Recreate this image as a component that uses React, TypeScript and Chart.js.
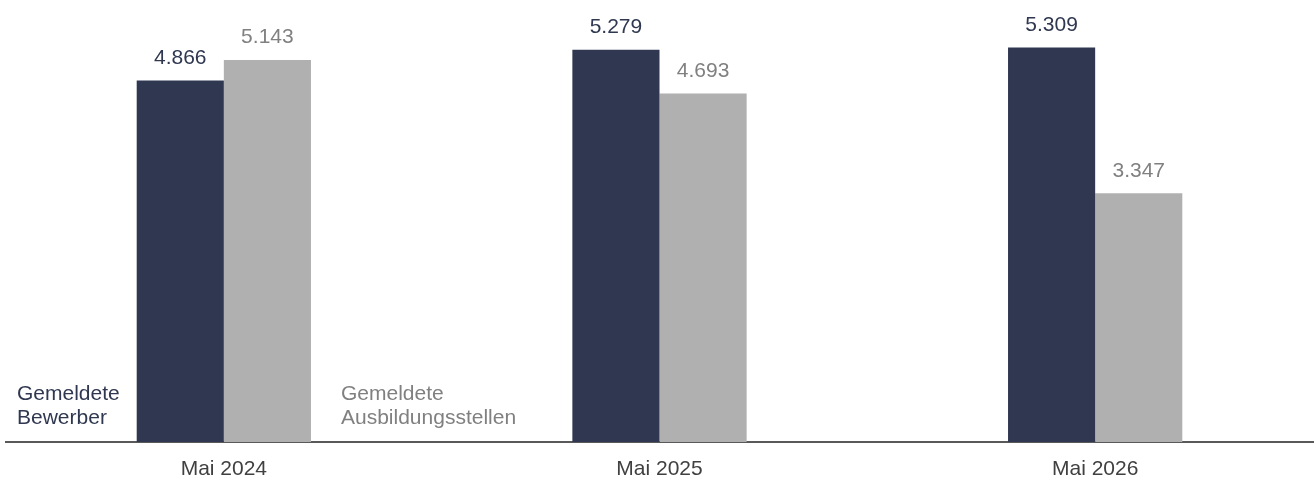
import React, { useEffect, useRef } from "react";
import { Chart, registerables } from "chart.js";

Chart.register(...registerables);

const categories = ["Mai 2024", "Mai 2025", "Mai 2026"];
const bewerber = [4866, 5279, 5309];
const stellen = [5143, 4693, 3347];
const seriesNames = ["Gemeldete Bewerber", "Gemeldete Ausbildungsstellen"];
const yMax = 5950;

const DARK = "#2F3850";
const GRAY = "#B0B0B0";
const DARK_TEXT = "#2F3850";
const GRAY_TEXT = "#808080";
const FONT = '"Liberation Sans", Arial, sans-serif';
const FONT_SIZE = 21;

const fmt = (v: number) => String(v).replace(/\B(?=(\d{3})+(?!\d))/g, ".");

const labelsPlugin = {
  id: "customLabels",
  afterDatasetsDraw(chart: any) {
    const ctx = chart.ctx;
    ctx.save();
    ctx.font = `${FONT_SIZE}px ${FONT}`;
    ctx.textAlign = "center";
    ctx.textBaseline = "alphabetic";
    chart.data.datasets.forEach((ds: any, di: number) => {
      const meta = chart.getDatasetMeta(di);
      ctx.fillStyle = di === 0 ? DARK_TEXT : GRAY_TEXT;
      meta.data.forEach((bar: any, i: number) => {
        ctx.fillText(fmt(ds.data[i]), bar.x, bar.y - 16.5);
      });
    });
    // series annotations near the baseline
    const area = chart.chartArea;
    ctx.textAlign = "left";
    ctx.fillStyle = DARK_TEXT;
    const [a1, a2] = seriesNames[0].split(" ");
    ctx.fillText(a1, area.left + 11, area.bottom - 42);
    ctx.fillText(a2, area.left + 11, area.bottom - 18);
    const gbar: any = chart.getDatasetMeta(1).data[0];
    const gx = gbar.x + gbar.width / 2 + 30;
    ctx.fillStyle = GRAY_TEXT;
    const [b1, b2] = seriesNames[1].split(" ");
    ctx.fillText(b1, gx, area.bottom - 42);
    ctx.fillText(b2, gx, area.bottom - 18);
    ctx.restore();
  },
};

export default function App() {
  const ref = useRef<HTMLCanvasElement>(null);
  useEffect(() => {
    document.body.style.margin = "0";
    const chart = new Chart(ref.current!, {
      type: "bar",
      data: {
        labels: categories,
        datasets: [
          {
            label: seriesNames[0],
            data: bewerber,
            backgroundColor: DARK,
            categoryPercentage: 0.4,
            barPercentage: 1,
          },
          {
            label: seriesNames[1],
            data: stellen,
            backgroundColor: GRAY,
            categoryPercentage: 0.4,
            barPercentage: 1,
          },
        ],
      },
      options: {
        responsive: false,
        maintainAspectRatio: false,
        animation: false,
        devicePixelRatio: 1,
        layout: { padding: { left: 6, right: 3, top: 0, bottom: 0 } },
        plugins: { legend: { display: false }, tooltip: { enabled: false } },
        scales: {
          x: {
            grid: { display: false, drawTicks: false, tickLength: 0 },
            border: { display: true, color: "#595959", width: 2 },
            ticks: {
              color: "#404040",
              padding: 15,
              font: { family: FONT, size: FONT_SIZE },
            },
            afterFit: (scale: any) => {
              scale.height = 36;
            },
          },
          y: { display: false, min: 0, max: yMax },
        },
      },
      plugins: [labelsPlugin],
    });
    return () => chart.destroy();
  }, []);
  return (
    <div style={{ width: 1316, height: 478 }}>
      <canvas ref={ref} width={1316} height={478} style={{ display: "block" }} />
    </div>
  );
}
